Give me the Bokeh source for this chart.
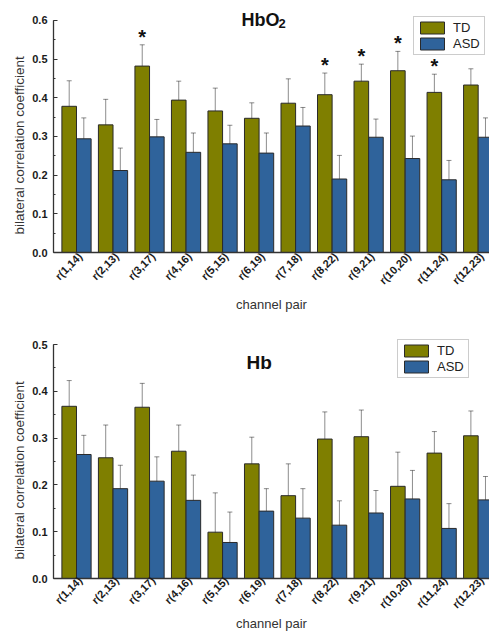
import math
from bokeh.plotting import figure
from bokeh.models import (ColumnDataSource, Range1d, FixedTicker, SingleIntervalTicker,
                          NumeralTickFormatter, Whisker, TeeHead, Legend, LegendItem, Label, Title)
from bokeh.layouts import column
from bokeh.core.properties import value
from bokeh.embed import file_html
from bokeh.resources import INLINE

categories = ["r(1,14)", "r(2,13)", "r(3,17)", "r(4,16)", "r(5,15)", "r(6,19)",
              "r(7,18)", "r(8,22)", "r(9,21)", "r(10,20)", "r(11,24)", "r(12,23)"]

# HbO2 panel
hbo2_td = [0.378, 0.330, 0.482, 0.394, 0.366, 0.347, 0.386, 0.408, 0.443, 0.470, 0.414, 0.433]
hbo2_td_err = [0.066, 0.066, 0.055, 0.049, 0.059, 0.040, 0.063, 0.056, 0.044, 0.050, 0.047, 0.042]
hbo2_asd = [0.294, 0.212, 0.299, 0.259, 0.281, 0.257, 0.327, 0.190, 0.298, 0.243, 0.188, 0.298]
hbo2_asd_err = [0.054, 0.058, 0.045, 0.050, 0.048, 0.052, 0.048, 0.061, 0.047, 0.058, 0.050, 0.050]
hbo2_sig = [False, False, True, False, False, False, False, True, True, True, True, False]

# Hb panel
hb_td = [0.368, 0.258, 0.366, 0.272, 0.099, 0.245, 0.177, 0.298, 0.303, 0.197, 0.268, 0.305]
hb_td_err = [0.055, 0.070, 0.051, 0.056, 0.084, 0.057, 0.068, 0.058, 0.057, 0.073, 0.046, 0.053]
hb_asd = [0.265, 0.192, 0.208, 0.167, 0.077, 0.144, 0.129, 0.114, 0.140, 0.170, 0.107, 0.168]
hb_asd_err = [0.041, 0.050, 0.052, 0.054, 0.065, 0.048, 0.063, 0.052, 0.048, 0.061, 0.053, 0.050]
hb_sig = [False] * 12

series_labels = ["TD", "ASD"]
y_title = "bilateral correlation coefficient"
x_title = "channel pair"

TD_COLOR = "#7f7f00"
ASD_COLOR = "#2f639b"
FONT = "Liberation Sans"


def make_panel(td, td_err, asd, asd_err, sig, y_max, y_end, height, border_top,
               legend_loc, title_parts, lab_standoff, axlab_standoff, ylab_offset):
    p = figure(width=489, height=height,
               x_range=Range1d(0.37, 12.31), y_range=Range1d(0, y_end),
               output_backend="svg", toolbar_location=None,
               min_border_left=53, min_border_right=0,
               min_border_top=border_top, min_border_bottom=0)
    p.outline_line_color = None
    p.grid.visible = False
    p.background_fill_color = "white"

    xs = [i + 1 for i in range(len(categories))]
    renderers = []
    for vals, errs, off, color in ((td, td_err, -0.2, TD_COLOR), (asd, asd_err, 0.2, ASD_COLOR)):
        src = ColumnDataSource(dict(
            x=[x + off for x in xs], top=vals,
            upper=[v + e for v, e in zip(vals, errs)],
            lower=[v - e for v, e in zip(vals, errs)]))
        r = p.vbar(x="x", top="top", bottom=0, width=0.4, source=src,
                   fill_color=color, line_color="#2a2a2a", line_width=1)
        renderers.append(r)
        wh = Whisker(source=src, base="x", upper="upper", lower="lower",
                     line_color="black", line_alpha=0.45, line_width=1,
                     upper_head=TeeHead(size=5, line_color="black", line_alpha=0.45, line_width=1),
                     lower_head=TeeHead(size=5, line_color="black", line_alpha=0.45, line_width=1))
        p.add_layout(wh)

    # significance asterisks
    sx = [x - 0.2 for x, s in zip(xs, sig) if s]
    sy = [v + e for v, e, s in zip(td, td_err, sig) if s]
    if sx:
        p.text(x=sx, y=sy, text=["*"] * len(sx), text_align="center",
               text_baseline="alphabetic", y_offset=-8,
               text_font=value(FONT), text_font_size="20px",
               text_font_style="bold", text_color="#111111")

    # axes
    yaxis = p.yaxis[0]
    yaxis.bounds = (0, y_max + 1e-6)
    yaxis.ticker = SingleIntervalTicker(interval=0.1, num_minor_ticks=2)
    yaxis.formatter = NumeralTickFormatter(format="0.0")
    yaxis.major_tick_in = 4
    yaxis.major_tick_out = 0
    yaxis.minor_tick_in = 2
    yaxis.minor_tick_out = 0
    yaxis.axis_line_color = "#333333"
    yaxis.axis_line_width = 1.3
    yaxis.major_tick_line_color = "#333333"
    yaxis.minor_tick_line_color = "#333333"
    yaxis.major_label_text_font = FONT
    yaxis.major_label_text_font_size = "11px"
    yaxis.major_label_text_font_style = "bold"
    yaxis.major_label_text_color = "#1a1a1a"
    yaxis.major_label_standoff = 6

    # y-axis title as a left-side title so it can be offset along the axis
    p.add_layout(Title(text=y_title, align="left", offset=ylab_offset, standoff=5,
                       text_font=FONT, text_font_size="13.5px", text_font_style="normal",
                       text_color="#333333"), "left")

    xaxis = p.xaxis[0]
    tick_pos = [x + 0.1 for x in xs]
    xaxis.ticker = FixedTicker(ticks=tick_pos)
    xaxis.major_label_overrides = {t: c for t, c in zip(tick_pos, categories)}
    xaxis.major_label_orientation = math.pi / 4
    xaxis.major_tick_in = 0
    xaxis.major_tick_out = 0
    xaxis.minor_tick_line_color = None
    xaxis.axis_line_color = "#333333"
    xaxis.axis_line_width = 1.3
    xaxis.major_label_text_font = FONT
    xaxis.major_label_text_font_size = "11px"
    xaxis.major_label_text_font_style = "bold"
    xaxis.major_label_text_color = "#1a1a1a"
    xaxis.major_label_standoff = lab_standoff
    xaxis.axis_label = x_title
    xaxis.axis_label_text_font = FONT
    xaxis.axis_label_text_font_size = "13px"
    xaxis.axis_label_text_font_style = "normal"
    xaxis.axis_label_text_color = "#333333"
    xaxis.axis_label_standoff = axlab_standoff

    legend = Legend(items=[LegendItem(label=series_labels[0], renderers=[renderers[0]]),
                           LegendItem(label=series_labels[1], renderers=[renderers[1]])],
                    location=legend_loc)
    legend.glyph_width = 30
    legend.glyph_height = 15
    legend.label_height = 15
    legend.label_width = 28
    legend.label_standoff = 6
    legend.padding = 3
    legend.spacing = 1
    legend.margin = 0
    legend.border_line_color = "#9a9a9a"
    legend.border_line_width = 1
    legend.background_fill_color = "white"
    legend.background_fill_alpha = 1
    legend.label_text_font = FONT
    legend.label_text_font_size = "13px"
    legend.label_text_color = "#222222"
    p.add_layout(legend)

    for txt, lx, ly, size in title_parts:
        p.add_layout(Label(x=lx, y=ly, x_units="screen", y_units="screen", text=txt,
                           text_font=FONT, text_font_size=size, text_font_style="bold",
                           text_color="#111111", text_baseline="alphabetic"))
    return p


p1 = make_panel(hbo2_td, hbo2_td_err, hbo2_asd, hbo2_asd_err, hbo2_sig, 0.6, 0.6438,
                height=314, border_top=3, legend_loc=(360, 197),
                title_parts=[("HbO", 188, 233, "18px"), ("2", 225, 229, "13px")],
                lab_standoff=2, axlab_standoff=3, ylab_offset=18)
p2 = make_panel(hb_td, hb_td_err, hb_asd, hb_asd_err, hb_sig, 0.5, 0.5129,
                height=319, border_top=24, legend_loc=(344, 200),
                title_parts=[("Hb", 193, 216, "19px")],
                lab_standoff=0, axlab_standoff=-2, ylab_offset=19)

layout = column(p1, p2, spacing=0)

with open("out.html", "w") as f:
    f.write(file_html(layout, INLINE))
